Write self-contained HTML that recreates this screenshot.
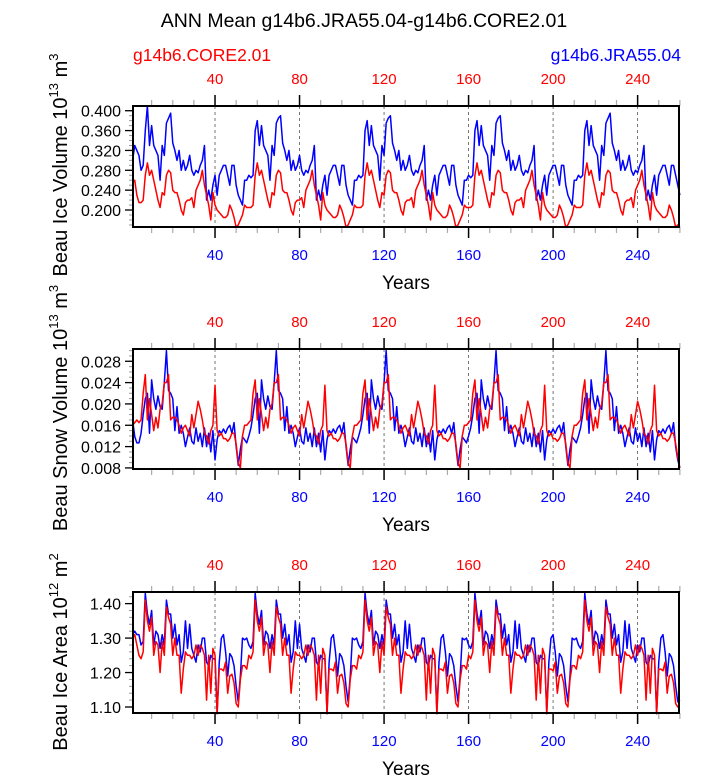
<!DOCTYPE html>
<html><head><meta charset="utf-8"><style>
html,body{margin:0;padding:0;background:#fff;}
svg{display:block;font-family:"Liberation Sans",Arial,sans-serif;}
</style></head><body>
<svg id="chart" width="723" height="775" viewBox="0 0 723 775" xmlns="http://www.w3.org/2000/svg">
<text x="364" y="27" font-size="19.5" text-anchor="middle">ANN Mean g14b6.JRA55.04-g14b6.CORE2.01</text>
<text x="133" y="61" font-size="17.5" fill="#ff0000">g14b6.CORE2.01</text>
<text x="681" y="61" font-size="17.5" fill="#0000ff" text-anchor="end">g14b6.JRA55.04</text>
</svg>
<script>
const years = [];
for (let i = 1; i <= 260; i++) years.push(i);
const xTicks = [40, 80, 120, 160, 200, 240];

const iceVolCore = [
0.255,0.26,0.23,0.215,0.215,0.22,0.27,0.295,0.27,0.28,0.26,0.24,0.22,0.205,0.235,0.23,0.27,0.28,0.275,0.24,0.235,0.235,0.22,0.20,0.19,0.215,0.22,0.22,0.225,0.205,0.24,0.25,0.26,0.28,0.25,0.23,0.21,0.18,0.235,0.21,0.20,0.195,0.19,0.185,0.185,0.19,0.21,0.20,0.185,0.165,0.17,0.18,
0.19,0.21,0.205,0.205,0.205,0.21,0.27,0.295,0.27,0.28,0.26,0.24,0.22,0.205,0.235,0.23,0.27,0.28,0.275,0.24,0.235,0.235,0.22,0.20,0.19,0.215,0.22,0.22,0.225,0.205,0.24,0.25,0.26,0.28,0.25,0.23,0.21,0.18,0.235,0.21,0.20,0.195,0.19,0.185,0.185,0.19,0.21,0.20,0.185,0.165,0.17,0.18,
0.19,0.21,0.205,0.205,0.205,0.21,0.27,0.295,0.27,0.28,0.26,0.24,0.22,0.205,0.235,0.23,0.27,0.28,0.275,0.24,0.235,0.235,0.22,0.20,0.19,0.215,0.22,0.22,0.225,0.205,0.24,0.25,0.26,0.28,0.25,0.23,0.21,0.18,0.235,0.21,0.20,0.195,0.19,0.185,0.185,0.19,0.21,0.20,0.185,0.165,0.17,0.18,
0.19,0.21,0.205,0.205,0.205,0.21,0.27,0.295,0.27,0.28,0.26,0.24,0.22,0.205,0.235,0.23,0.27,0.28,0.275,0.24,0.235,0.235,0.22,0.20,0.19,0.215,0.22,0.22,0.225,0.205,0.24,0.25,0.26,0.28,0.25,0.23,0.21,0.18,0.235,0.21,0.20,0.195,0.19,0.185,0.185,0.19,0.21,0.20,0.185,0.165,0.17,0.18,
0.19,0.21,0.205,0.205,0.205,0.21,0.27,0.295,0.27,0.28,0.26,0.24,0.22,0.205,0.235,0.23,0.27,0.28,0.275,0.24,0.235,0.235,0.22,0.20,0.19,0.215,0.22,0.22,0.225,0.205,0.24,0.25,0.26,0.28,0.25,0.23,0.21,0.18,0.235,0.21,0.20,0.195,0.19,0.185,0.185,0.19,0.21,0.20,0.185,0.165,0.17,0.165
];
const iceVolJra = [
0.30,0.33,0.32,0.31,0.28,0.29,0.36,0.41,0.33,0.37,0.33,0.32,0.31,0.26,0.33,0.31,0.375,0.385,0.395,0.335,0.32,0.30,0.32,0.28,0.30,0.28,0.29,0.31,0.28,0.27,0.28,0.275,0.29,0.30,0.33,0.22,0.24,0.22,0.25,0.27,0.23,0.27,0.28,0.29,0.29,0.27,0.25,0.29,0.29,0.25,0.23,0.22,
0.21,0.26,0.26,0.27,0.265,0.27,0.36,0.38,0.33,0.37,0.33,0.32,0.31,0.26,0.33,0.31,0.375,0.385,0.39,0.335,0.32,0.30,0.32,0.28,0.30,0.28,0.29,0.31,0.28,0.27,0.28,0.275,0.29,0.30,0.33,0.22,0.24,0.22,0.25,0.27,0.23,0.27,0.28,0.29,0.29,0.27,0.25,0.29,0.29,0.25,0.23,0.22,
0.21,0.26,0.26,0.27,0.265,0.27,0.36,0.38,0.33,0.37,0.33,0.32,0.31,0.26,0.33,0.31,0.375,0.385,0.39,0.335,0.32,0.30,0.32,0.28,0.30,0.28,0.29,0.31,0.28,0.27,0.28,0.275,0.29,0.30,0.33,0.22,0.24,0.22,0.25,0.27,0.23,0.27,0.28,0.29,0.29,0.27,0.25,0.29,0.29,0.25,0.23,0.22,
0.21,0.26,0.26,0.27,0.265,0.27,0.36,0.38,0.33,0.37,0.33,0.32,0.31,0.26,0.33,0.31,0.375,0.385,0.39,0.335,0.32,0.30,0.32,0.28,0.30,0.28,0.29,0.31,0.28,0.27,0.28,0.275,0.29,0.30,0.33,0.22,0.24,0.22,0.25,0.27,0.23,0.27,0.28,0.29,0.29,0.27,0.25,0.29,0.29,0.25,0.23,0.22,
0.21,0.26,0.26,0.27,0.265,0.27,0.36,0.38,0.33,0.37,0.33,0.32,0.31,0.26,0.33,0.31,0.375,0.385,0.395,0.335,0.32,0.30,0.32,0.28,0.30,0.28,0.29,0.31,0.28,0.27,0.28,0.275,0.29,0.30,0.33,0.22,0.24,0.22,0.25,0.27,0.23,0.27,0.28,0.29,0.29,0.27,0.25,0.29,0.29,0.27,0.25,0.23
];
const snowVolCore = [
0.016,0.0165,0.017,0.0165,0.017,0.022,0.0255,0.017,0.021,0.018,0.015,0.0175,0.0155,0.019,0.020,0.024,0.024,0.0255,0.017,0.0175,0.0175,0.017,0.016,0.0145,0.0155,0.016,0.015,0.014,0.018,0.0155,0.018,0.0205,0.019,0.017,0.0145,0.014,0.0125,0.015,0.016,0.0235,0.015,0.014,0.0145,0.0135,0.0135,0.013,0.0135,0.0145,0.0145,0.0125,0.009,0.008,
0.014,0.016,0.016,0.0165,0.017,0.022,0.0245,0.017,0.021,0.018,0.015,0.0175,0.0155,0.019,0.020,0.024,0.024,0.0255,0.017,0.0175,0.0175,0.017,0.016,0.0145,0.0155,0.016,0.015,0.014,0.018,0.0155,0.018,0.0205,0.019,0.017,0.0145,0.014,0.0125,0.015,0.016,0.0235,0.015,0.014,0.0145,0.0135,0.0135,0.013,0.0135,0.0145,0.0145,0.0125,0.009,0.008,
0.014,0.016,0.016,0.0165,0.017,0.022,0.0245,0.017,0.021,0.018,0.015,0.0175,0.0155,0.019,0.020,0.024,0.024,0.0255,0.017,0.0175,0.0175,0.017,0.016,0.0145,0.0155,0.016,0.015,0.014,0.018,0.0155,0.018,0.0205,0.019,0.017,0.0145,0.014,0.0125,0.015,0.016,0.0235,0.015,0.014,0.0145,0.0135,0.0135,0.013,0.0135,0.0145,0.0145,0.0125,0.009,0.008,
0.014,0.016,0.016,0.0165,0.017,0.022,0.0245,0.017,0.021,0.018,0.015,0.0175,0.0155,0.019,0.020,0.024,0.024,0.0255,0.017,0.0175,0.0175,0.017,0.016,0.0145,0.0155,0.016,0.015,0.014,0.018,0.0155,0.018,0.0205,0.019,0.017,0.0145,0.014,0.0125,0.015,0.016,0.0235,0.015,0.014,0.0145,0.0135,0.0135,0.013,0.0135,0.0145,0.0145,0.0125,0.009,0.008,
0.014,0.016,0.016,0.0165,0.017,0.022,0.0245,0.017,0.021,0.018,0.015,0.0175,0.0155,0.019,0.020,0.024,0.024,0.0255,0.017,0.0175,0.0175,0.017,0.016,0.0145,0.0155,0.016,0.015,0.014,0.018,0.0155,0.018,0.0205,0.019,0.017,0.0145,0.014,0.0125,0.015,0.016,0.0235,0.015,0.014,0.0145,0.0135,0.0135,0.013,0.0135,0.0145,0.0145,0.0125,0.010,0.008
];
const snowVolJra = [
0.017,0.0139,0.0127,0.0127,0.0145,0.018,0.021,0.022,0.0145,0.0245,0.021,0.019,0.0215,0.0195,0.019,0.024,0.030,0.0225,0.022,0.021,0.015,0.0195,0.0145,0.016,0.0145,0.012,0.0138,0.0155,0.013,0.0125,0.0155,0.013,0.0145,0.012,0.0155,0.012,0.0145,0.011,0.015,0.0095,0.0133,0.015,0.0145,0.0153,0.0145,0.0155,0.016,0.0145,0.0165,0.012,0.0085,0.0115,
0.0138,0.0133,0.0127,0.014,0.0155,0.018,0.021,0.022,0.0145,0.0245,0.021,0.019,0.0215,0.0195,0.019,0.024,0.030,0.0225,0.022,0.021,0.015,0.0195,0.0145,0.016,0.0145,0.012,0.0138,0.0155,0.013,0.0125,0.0155,0.013,0.0145,0.012,0.0155,0.012,0.0145,0.011,0.015,0.0095,0.0133,0.015,0.0145,0.0153,0.0145,0.0155,0.016,0.0145,0.0165,0.012,0.0085,0.0115,
0.0138,0.0133,0.0127,0.014,0.0155,0.018,0.021,0.022,0.0145,0.0245,0.021,0.019,0.0215,0.0195,0.019,0.024,0.030,0.0225,0.022,0.021,0.015,0.0195,0.0145,0.016,0.0145,0.012,0.0138,0.0155,0.013,0.0125,0.0155,0.013,0.0145,0.012,0.0155,0.012,0.0145,0.011,0.015,0.0095,0.0133,0.015,0.0145,0.0153,0.0145,0.0155,0.016,0.0145,0.0165,0.012,0.0085,0.0115,
0.0138,0.0133,0.0127,0.014,0.0155,0.018,0.021,0.022,0.0145,0.0245,0.021,0.019,0.0215,0.0195,0.019,0.024,0.030,0.0225,0.022,0.021,0.015,0.0195,0.0145,0.016,0.0145,0.012,0.0138,0.0155,0.013,0.0125,0.0155,0.013,0.0145,0.012,0.0155,0.012,0.0145,0.011,0.015,0.0095,0.0133,0.015,0.0145,0.0153,0.0145,0.0155,0.016,0.0145,0.0165,0.012,0.0085,0.0115,
0.0138,0.0133,0.0127,0.014,0.0155,0.018,0.021,0.022,0.0145,0.0245,0.021,0.019,0.0215,0.0195,0.019,0.024,0.030,0.0225,0.022,0.021,0.015,0.0195,0.0145,0.016,0.0145,0.012,0.0138,0.0155,0.013,0.0125,0.0155,0.013,0.0145,0.012,0.0155,0.012,0.0145,0.011,0.015,0.0095,0.0133,0.015,0.0145,0.0153,0.0145,0.0155,0.016,0.0145,0.0165,0.012,0.0095,0.008
];
const iceAreaCore = [
1.30,1.31,1.28,1.25,1.24,1.26,1.41,1.35,1.32,1.36,1.25,1.29,1.28,1.20,1.29,1.25,1.39,1.36,1.34,1.25,1.30,1.25,1.25,1.14,1.21,1.26,1.25,1.25,1.24,1.25,1.28,1.25,1.28,1.27,1.25,1.12,1.25,1.14,1.27,1.25,1.08,1.21,1.21,1.205,1.23,1.14,1.19,1.195,1.17,1.11,1.10,1.18,
1.22,1.22,1.21,1.25,1.24,1.26,1.41,1.35,1.32,1.36,1.25,1.29,1.28,1.20,1.29,1.25,1.39,1.36,1.34,1.25,1.30,1.25,1.25,1.14,1.21,1.26,1.25,1.25,1.24,1.25,1.28,1.25,1.28,1.27,1.25,1.12,1.25,1.14,1.27,1.25,1.08,1.21,1.21,1.205,1.23,1.14,1.19,1.195,1.17,1.11,1.10,1.18,
1.22,1.22,1.21,1.25,1.24,1.26,1.41,1.35,1.32,1.36,1.25,1.29,1.28,1.20,1.29,1.25,1.39,1.36,1.34,1.25,1.30,1.25,1.25,1.14,1.21,1.26,1.25,1.25,1.24,1.25,1.28,1.25,1.28,1.27,1.25,1.12,1.25,1.14,1.27,1.25,1.08,1.21,1.21,1.205,1.23,1.14,1.19,1.195,1.17,1.11,1.10,1.18,
1.22,1.22,1.21,1.25,1.24,1.26,1.41,1.35,1.32,1.36,1.25,1.29,1.28,1.20,1.29,1.25,1.39,1.36,1.34,1.25,1.30,1.25,1.25,1.14,1.21,1.26,1.25,1.25,1.24,1.25,1.28,1.25,1.28,1.27,1.25,1.12,1.25,1.14,1.27,1.25,1.08,1.21,1.21,1.205,1.23,1.14,1.19,1.195,1.17,1.11,1.10,1.18,
1.22,1.22,1.21,1.25,1.24,1.26,1.41,1.35,1.32,1.36,1.25,1.29,1.28,1.20,1.29,1.25,1.39,1.36,1.34,1.25,1.30,1.25,1.25,1.14,1.21,1.26,1.25,1.25,1.24,1.25,1.28,1.25,1.28,1.27,1.25,1.12,1.25,1.14,1.27,1.25,1.08,1.21,1.21,1.205,1.23,1.14,1.19,1.195,1.17,1.11,1.10,1.10
];
const iceAreaJra = [
1.31,1.32,1.31,1.31,1.28,1.29,1.43,1.37,1.34,1.38,1.28,1.32,1.31,1.27,1.31,1.28,1.41,1.37,1.37,1.30,1.34,1.28,1.31,1.23,1.26,1.35,1.27,1.34,1.27,1.25,1.23,1.28,1.26,1.30,1.30,1.23,1.22,1.25,1.24,1.24,1.085,1.23,1.30,1.31,1.26,1.19,1.255,1.245,1.22,1.16,1.115,1.19,
1.30,1.295,1.30,1.28,1.27,1.29,1.43,1.37,1.34,1.38,1.28,1.32,1.31,1.27,1.31,1.28,1.41,1.37,1.37,1.30,1.34,1.28,1.31,1.23,1.26,1.35,1.27,1.34,1.27,1.25,1.23,1.28,1.26,1.30,1.30,1.23,1.22,1.25,1.24,1.24,1.085,1.23,1.30,1.31,1.26,1.19,1.255,1.245,1.22,1.16,1.115,1.19,
1.30,1.295,1.30,1.28,1.27,1.29,1.43,1.37,1.34,1.38,1.28,1.32,1.31,1.27,1.31,1.28,1.41,1.37,1.37,1.30,1.34,1.28,1.31,1.23,1.26,1.35,1.27,1.34,1.27,1.25,1.23,1.28,1.26,1.30,1.30,1.23,1.22,1.25,1.24,1.24,1.085,1.23,1.30,1.31,1.26,1.19,1.255,1.245,1.22,1.16,1.115,1.19,
1.30,1.295,1.30,1.28,1.27,1.29,1.43,1.37,1.34,1.38,1.28,1.32,1.31,1.27,1.31,1.28,1.41,1.37,1.37,1.30,1.34,1.28,1.31,1.23,1.26,1.35,1.27,1.34,1.27,1.25,1.23,1.28,1.26,1.30,1.30,1.23,1.22,1.25,1.24,1.24,1.085,1.23,1.30,1.31,1.26,1.19,1.255,1.245,1.22,1.16,1.115,1.19,
1.30,1.295,1.30,1.28,1.27,1.29,1.43,1.37,1.34,1.38,1.28,1.32,1.31,1.27,1.31,1.28,1.41,1.37,1.37,1.30,1.34,1.28,1.31,1.23,1.26,1.35,1.27,1.34,1.27,1.25,1.23,1.28,1.26,1.30,1.30,1.23,1.22,1.25,1.24,1.24,1.085,1.23,1.30,1.31,1.26,1.19,1.255,1.245,1.22,1.16,1.115,1.12
];
const iceVolTicks = ["0.200","0.240","0.280","0.320","0.360","0.400"];
const snowVolTicks = ["0.008","0.012","0.016","0.020","0.024","0.028"];
const iceAreaTicks = ["1.10","1.20","1.30","1.40"];

const NS = "http://www.w3.org/2000/svg";
const svg = document.getElementById("chart");
const X0 = 133, X1 = 679;
function xScale(yr) { return 130.5 + 2.113 * yr; }
function mk(tag, attrs, parent) {
  const e = document.createElementNS(NS, tag);
  for (const k in attrs) e.setAttribute(k, attrs[k]);
  (parent || svg).appendChild(e);
  return e;
}

const panels = [
  {name:"ice-volume", top:106, bot:227, vmin:0.1658, vmax:0.4095, ticks:iceVolTicks, minor:0.01,
   core:iceVolCore, jra:iceVolJra, title:"Beau Ice Volume 10", sup:"13", unit:" m", usup:"3", titleY:165},
  {name:"snow-volume", top:349, bot:469, vmin:0.0078, vmax:0.0303, ticks:snowVolTicks, minor:0.001,
   core:snowVolCore, jra:snowVolJra, title:"Beau Snow Volume 10", sup:"13", unit:" m", usup:"3", titleY:408},
  {name:"ice-area", top:592, bot:713, vmin:1.0826, vmax:1.4337, ticks:iceAreaTicks, minor:0.02,
   core:iceAreaCore, jra:iceAreaJra, title:"Beau Ice Area 10", sup:"12", unit:" m", usup:"2", titleY:652}
];

panels.forEach(function(p) {
  const g = mk("g", {});
  
  
  const yScale = function(v) { return p.bot - (v - p.vmin) / (p.vmax - p.vmin) * (p.bot - p.top); };
  xTicks.forEach(function(t) {
    const l = mk("line", {x1:xScale(t), x2:xScale(t), y1:p.top, y2:p.bot, stroke:"#555", "stroke-width":0.8, "stroke-dasharray":"3,3"}, g);
    
    
  });
  for (let t = 10; t <= 260; t += 10) {
    if (t % 40 === 0) continue;
    const x = xScale(t);
    mk("line", {x1:x, x2:x, y1:p.top - 6, y2:p.top, stroke:"#aaa", "stroke-width":1.2}, g);
    mk("line", {x1:x, x2:x, y1:p.bot, y2:p.bot + 6, stroke:"#aaa", "stroke-width":1.2}, g);
  }
  xTicks.forEach(function(t) {
    const x = xScale(t);
    mk("line", {x1:x, x2:x, y1:p.top - 11, y2:p.top, stroke:"#000", "stroke-width":1.5}, g);
    mk("line", {x1:x, x2:x, y1:p.bot, y2:p.bot + 11, stroke:"#000", "stroke-width":1.5}, g);
    const tt = mk("text", {x:x, y:p.top - 22, "font-size":15, fill:"#ff0000", "text-anchor":"middle"}, g);
    tt.textContent = t;
    
    
    const bt = mk("text", {x:x, y:p.bot + 33, "font-size":15, fill:"#0000ff", "text-anchor":"middle"}, g);
    bt.textContent = t;
    
    
  });
  const nMin = Math.ceil(p.vmin / p.minor - 1e-6), nMax = Math.floor(p.vmax / p.minor + 1e-6);
  for (let i = nMin; i <= nMax; i++) {
    const y = yScale(i * p.minor);
    mk("line", {x1:X0 - 4, x2:X0, y1:y, y2:y, stroke:"#999", "stroke-width":1}, g);
  }
  p.ticks.forEach(function(s) {
    const y = yScale(parseFloat(s));
    mk("line", {x1:X0 - 8, x2:X0, y1:y, y2:y, stroke:"#000", "stroke-width":1.3}, g);
    const tl = mk("text", {x:X0 - 12, y:y + 6, "font-size":16, "text-anchor":"end"}, g);
    tl.textContent = s;
    
    
  });
  [[p.jra, "#0000ff", "jra55-line"], [p.core, "#ff0000", "core2-line"]].forEach(function(sr) {
    const pts = sr[0].map(function(v, i) { return xScale(years[i]).toFixed(2) + "," + yScale(v).toFixed(2); }).join(" ");
    const pl = mk("polyline", {points:pts, fill:"none", stroke:sr[1], "stroke-width":1.5, "stroke-linejoin":"round"}, g);
    
    
  });
  const fr = mk("rect", {x:X0, y:p.top, width:X1 - X0, height:p.bot - p.top, fill:"none", stroke:"#000", "stroke-width":2}, g);
  
  
  const xt = mk("text", {x:(X0 + X1) / 2, y:p.bot + 62, "font-size":19, "text-anchor":"middle"}, g);
  xt.textContent = "Years";
  
  
  const yt = mk("text", {x:0, y:0, "font-size":20, "text-anchor":"middle", transform:"translate(67," + p.titleY + ") rotate(-90)"}, g);
  
  
  const a = document.createElementNS(NS, "tspan"); a.textContent = p.title; yt.appendChild(a);
  const b = document.createElementNS(NS, "tspan"); b.setAttribute("dy", "-9"); b.setAttribute("font-size", "13"); b.textContent = p.sup; yt.appendChild(b);
  const c = document.createElementNS(NS, "tspan"); c.setAttribute("dy", "9"); c.textContent = p.unit; yt.appendChild(c);
  const d = document.createElementNS(NS, "tspan"); d.setAttribute("dy", "-9"); d.setAttribute("font-size", "13"); d.textContent = p.usup; yt.appendChild(d);
});
</script>
</body></html>
